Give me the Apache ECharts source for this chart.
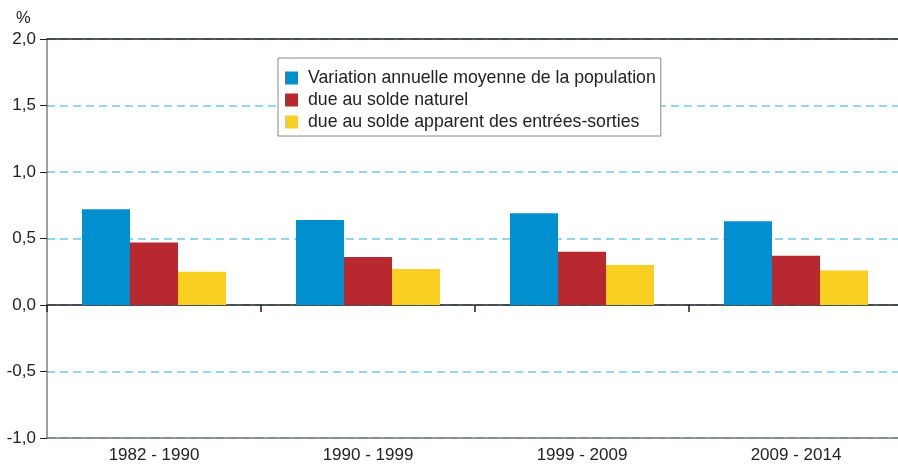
<!DOCTYPE html>
<html lang="fr">
<head>
    <meta charset="UTF-8">
    <title>Variation annuelle moyenne de la population</title>
    <script type="text/javascript" src="https://cdn.jsdelivr.net/npm/echarts@6/dist/echarts.min.js"></script>
    <style>
        html, body { margin: 0; padding: 0; background: #fff; overflow: hidden; }
        /* le graphique déborde de quelques pixels à droite, comme l'original */
        #chart { width: 903px; height: 464px; }
    </style>
</head>
<body>
<div id="chart"></div>
<script>
    // données
    var periodes = ['1982 - 1990', '1990 - 1999', '1999 - 2009', '2009 - 2014'];
    var variation = [0.72, 0.64, 0.69, 0.63];
    var soldeNaturel = [0.47, 0.36, 0.40, 0.37];
    var soldeMigratoire = [0.25, 0.27, 0.30, 0.26];
    var noms = ['Variation annuelle moyenne de la population', 'due au solde naturel', 'due au solde apparent des entrées-sorties'];

    var myChart = echarts.init(document.getElementById('chart'));
    var police = 'Liberation Sans, Arial, sans-serif';

    var option = {
        animation: false,
        textStyle: { fontFamily: police },
        title: {
            text: '%',
            left: 16,
            top: 10,
            padding: 0,
            textStyle: { fontSize: 16.5, fontWeight: 'normal', color: '#222', fontFamily: police }
        },
        legend: {
            orient: 'vertical',
            left: 278,
            top: 58,
            backgroundColor: '#fff',
            borderColor: '#888',
            borderWidth: 1,
            padding: [11, 5, 5, 7],
            itemGap: 4,
            itemWidth: 13,
            itemHeight: 13,
            icon: 'rect',
            data: noms,
            textStyle: { fontSize: 17.7, color: '#222', padding: [0, 0, 0, 5], fontFamily: police }
        },
        grid: { left: 47, right: 0, top: 39, bottom: 23 },
        xAxis: [
            {
                type: 'category',
                data: periodes,
                position: 'bottom',
                axisLine: { onZero: false, lineStyle: { color: '#777', width: 1.5 } },
                axisTick: { show: false },
                axisLabel: { fontSize: 17, color: '#222', margin: 9, fontFamily: police }
            },
            {
                type: 'category',
                data: periodes,
                position: 'top',
                axisLine: { onZero: true, lineStyle: { color: '#222', width: 1.5 } },
                axisTick: { show: true, inside: true, length: 7, lineStyle: { color: '#222', width: 1.5 } },
                axisLabel: { show: false }
            }
        ],
        yAxis: {
            type: 'value',
            min: -1,
            max: 2,
            interval: 0.5,
            axisLine: { show: true, lineStyle: { color: '#808080', width: 1.5 } },
            axisTick: { show: true, length: 7, lineStyle: { color: '#222' } },
            axisLabel: {
                fontSize: 17,
                color: '#222',
                margin: 11,
                fontFamily: police,
                formatter: function (v) { return v.toFixed(1).replace('.', ','); }
            },
            splitLine: { show: true, lineStyle: { color: '#93d5f2', type: [8, 5], width: 2 } }
        },
        series: [
            {
                name: noms[0],
                type: 'bar',
                data: variation,
                barWidth: 48,
                barGap: '0%',
                itemStyle: { color: '#0090cf' },
                markLine: {
                    silent: true,
                    symbol: 'none',
                    label: { show: false },
                    lineStyle: { color: '#222', type: 'solid', width: 1.5 },
                    data: [{ yAxis: 2 }]
                }
            },
            {
                name: noms[1],
                type: 'bar',
                data: soldeNaturel,
                barWidth: 48,
                barGap: '0%',
                itemStyle: { color: '#b8282f' }
            },
            {
                name: noms[2],
                type: 'bar',
                data: soldeMigratoire,
                barWidth: 48,
                barGap: '0%',
                itemStyle: { color: '#f9cf22' }
            }
        ]
    };
    myChart.setOption(option);
</script>
</body>
</html>
